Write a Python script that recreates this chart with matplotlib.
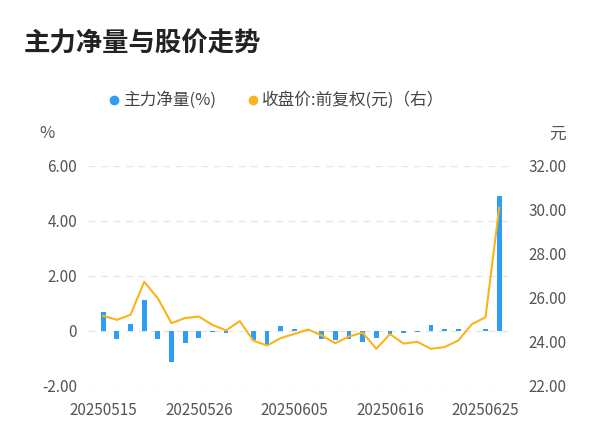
import matplotlib
matplotlib.use("Agg")
import matplotlib.pyplot as plt

plt.rcParams["font.family"] = ["Noto Sans CJK SC"]

dates = ["20250515","20250516","20250519","20250520","20250521","20250522","20250523",
         "20250526","20250527","20250528","20250529","20250530","20250603","20250604",
         "20250605","20250606","20250609","20250610","20250611","20250612","20250613",
         "20250616","20250617","20250618","20250619","20250620","20250623","20250624",
         "20250625","20250626"]
net_flow = [0.67,-0.30,0.24,1.13,-0.30,-1.14,-0.46,-0.27,-0.06,-0.08,-0.02,-0.33,-0.51,0.16,
            0.06,0.08,-0.28,-0.34,-0.28,-0.40,-0.27,-0.12,-0.08,-0.06,0.21,0.06,0.05,-0.02,
            0.08,4.92]
price = [25.18,25.0,25.23,26.73,25.98,24.85,25.08,25.15,24.77,24.52,24.94,24.05,23.83,24.17,
         24.36,24.56,24.29,23.94,24.24,24.42,23.68,24.35,23.92,24.0,23.68,23.76,24.06,24.8,
         25.12,30.1]
left_ticks = [-2, 0, 2, 4, 6]
left_labels = ["-2.00", "0", "2.00", "4.00", "6.00"]
right_ticks = [22, 24, 26, 28, 30, 32]
tick_idx = [0, 7, 14, 21, 28]

fig = plt.figure(figsize=(6, 4.46), dpi=100)
ax = fig.add_axes([0.147, 0.135, 0.71, 0.493])
x = list(range(len(dates)))
ax.bar(x, net_flow, width=0.35, color="#2e9ef5", zorder=3)
ax.set_ylim(-2, 6)
ax.set_xlim(-1.1, 30.1)
ax.set_yticks(left_ticks)
ax.set_yticklabels(left_labels)
ax.yaxis.grid(True, linestyle=(0, (5, 4)), color="#e6e6e6", linewidth=1)
ax.set_axisbelow(True)
ax.set_xticks(tick_idx)
ax.set_xticklabels([dates[i] for i in tick_idx])
for s in ax.spines.values():
    s.set_visible(False)
ax.tick_params(length=0, labelsize=11, colors="#555555", pad=8)
ax.tick_params(axis="x", pad=12)

ax2 = ax.twinx()
ax2.plot(x, price, color="#fbb31b", linewidth=1.5, zorder=4)
ax2.set_ylim(22, 32)
ax2.set_yticks(right_ticks)
ax2.set_yticklabels([f"{v:.2f}" for v in right_ticks])
for s in ax2.spines.values():
    s.set_visible(False)
ax2.tick_params(length=0, labelsize=11, colors="#555555", pad=10)

fig.text(0.04, 0.885, "主力净量与股价走势", fontsize=19, fontweight="bold", color="#222222")
fig.text(0.065, 0.69, "%", fontsize=12, color="#555555")
fig.text(0.915, 0.69, "元", fontsize=12, color="#555555")

fig.lines.append(matplotlib.lines.Line2D([0.19], [0.775], marker="o", markersize=6,
                 color="#2e9ef5", transform=fig.transFigure))
fig.text(0.205, 0.775, "主力净量(%)", fontsize=12, color="#444444", va="center")
fig.lines.append(matplotlib.lines.Line2D([0.422], [0.775], marker="o", markersize=6,
                 color="#fbb31b", transform=fig.transFigure))
fig.text(0.437, 0.775, "收盘价:前复权(元)（右）", fontsize=12, color="#444444", va="center")

fig.savefig("out.png", dpi=100)
